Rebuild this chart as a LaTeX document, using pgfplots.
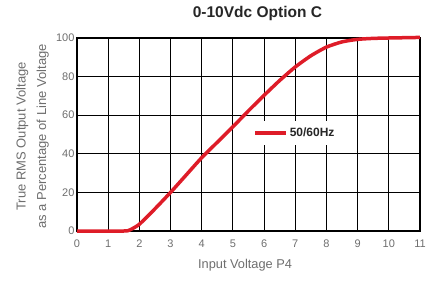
\documentclass[border=0pt]{standalone}
\usepackage{fontspec}
\setmainfont{Liberation Sans}
\usepackage{pgfplots}
\pgfplotsset{compat=1.18}
\definecolor{curvered}{RGB}{222,28,40}
\definecolor{labgray}{RGB}{110,110,110}
\begin{document}
\begin{tikzpicture}
\path[use as bounding box] (-77pt,-50pt) rectangle (356pt,231pt);
\begin{axis}[
  scale only axis,
  width=343pt, height=193pt,
  xmin=0, xmax=11, ymin=0, ymax=100,
  xtick={0,1,...,11}, ytick={0,20,...,100},
  grid=major,
  grid style={black, line width=1.1pt},
  axis line style={black, line width=1.6pt},
  tick style={draw=none},
  tick label style={font=\fontsize{11}{12}\selectfont, text=labgray},
  xticklabel style={yshift=-5pt},
  yticklabel style={xshift=1pt},
  /pgf/number format/assume math mode=true,
  xlabel={Input Voltage P4},
  xlabel style={font=\fontsize{12.8}{14}\selectfont, text=labgray, at={(axis description cs:0.49,-0.176)}, anchor=center},
  ylabel={True RMS Output Voltage\\as a Percentage of Line Voltage},
  ylabel style={font=\fontsize{13}{20.5}\selectfont, text=labgray, align=center, at={(axis description cs:-0.13,0.49)}, anchor=center},
  title={0-10Vdc Option C},
  title style={font=\bfseries\fontsize{15.5}{17}\selectfont, text=black!85, at={(axis description cs:0.526,1.095)}, anchor=center},
  legend style={at={(axis cs:5.55,44.5)}, anchor=south west, draw=none, fill=white,
    font=\bfseries\fontsize{12}{13}\selectfont, text=black!85, inner xsep=3pt, inner ysep=5pt},
  legend image code/.code={\draw[#1, line width=3.5pt] (0pt,0pt) -- (31pt,0pt);},
  clip=false,
]
\addplot[curvered, line width=3.5pt, line join=round, smooth, tension=0.35] coordinates {
(0,0) (1.5,0) (1.7,0.6) (2,3.5) (2.5,11.5) (3,20) (3.5,29) (4,38) (4.5,46) (5,54)
(5.5,62.3) (6,70.3) (6.5,78) (7,85) (7.5,90.8) (8,95.3) (8.5,98) (9,99.3) (9.5,99.8) (10,100) (11,100.3)
};
\addlegendentry{50/60Hz}
\end{axis}
\end{tikzpicture}
\end{document}
